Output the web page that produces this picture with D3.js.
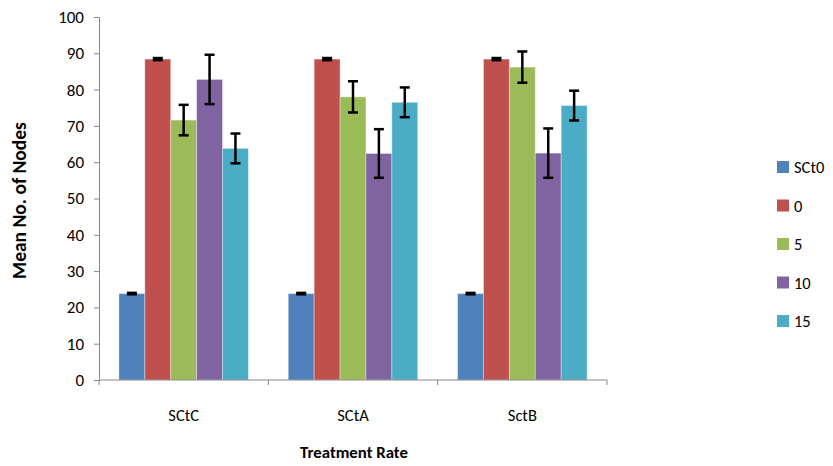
<!DOCTYPE html>
<html>
<head>
<meta charset="utf-8">
<script src="https://cdn.jsdelivr.net/npm/d3@7"></script>
<style>
  body { margin: 0; background: #fff; }
  text { font-family: Carlito, Lato, "Open Sans", sans-serif; }
</style>
</head>
<body>
<div id="container"></div>
<script>
// Données
const groups = ["SCtC", "SCtA", "SctB"];
const series = ["SCt0", "0", "5", "10", "15"];
const colors = ["#4F81BD", "#C0504D", "#9BBB59", "#8064A2", "#4BACC6"];
// valeurs par groupe, dans l'ordre des séries
const means = [
  [23.8, 88.4, 71.6, 82.8, 63.8],
  [23.8, 88.4, 78.0, 62.4, 76.5],
  [23.8, 88.4, 86.2, 62.5, 75.6]
];
const errs = [
  [0.2, 0.3, 4.2, 6.8, 4.1],
  [0.2, 0.3, 4.3, 6.7, 4.1],
  [0.2, 0.3, 4.3, 6.8, 4.1]
];
const yTicks = [0, 10, 20, 30, 40, 50, 60, 70, 80, 90, 100];

const width = 833, height = 466;
const marginLeft = 99, marginRight = 226, marginTop = 17, marginBottom = 86;

const svg = d3.create("svg")
  .attr("width", width)
  .attr("height", height);

const x0 = d3.scaleBand()
  .domain(groups)
  .range([marginLeft, width - marginRight]);

const x1 = d3.scaleBand()
  .domain(series)
  .range([0, x0.bandwidth()])
  .paddingOuter(0.77);

const y = d3.scaleLinear()
  .domain([0, 100])
  .range([height - marginBottom, marginTop]);

// Axe Y
const yAxis = svg.append("g")
  .attr("transform", `translate(${marginLeft},0)`)
  .call(d3.axisLeft(y).tickValues(yTicks).tickSize(5).tickPadding(10));
yAxis.selectAll("line, path").attr("stroke", "#868686");
yAxis.selectAll("text").style("font-size", "17px").attr("fill", "#000");

// Barres
const g = svg.append("g")
  .selectAll("g")
  .data(groups)
  .join("g")
  .attr("transform", d => `translate(${x0(d)},0)`);

g.selectAll("rect")
  .data((d, i) => series.map((s, j) => ({s, v: means[i][j], e: errs[i][j], c: colors[j]})))
  .join("rect")
  .attr("x", d => x1(d.s))
  .attr("y", d => y(d.v))
  .attr("width", x1.bandwidth())
  .attr("height", d => y(0) - y(d.v))
  .attr("fill", d => d.c)
  .attr("stroke", "rgba(255,255,255,0.35)")
  .attr("stroke-width", 1);

// Barres d'erreur
const eb = g.selectAll("g.err")
  .data((d, i) => series.map((s, j) => ({s, v: means[i][j], e: errs[i][j]})))
  .join("g")
  .attr("class", "err")
  .attr("stroke", "#000")
  .attr("stroke-width", 2.5);

eb.append("line")
  .attr("x1", d => x1(d.s) + x1.bandwidth() / 2)
  .attr("x2", d => x1(d.s) + x1.bandwidth() / 2)
  .attr("y1", d => y(d.v + d.e))
  .attr("y2", d => y(d.v - d.e));
eb.append("line")
  .attr("x1", d => x1(d.s) + x1.bandwidth() / 2 - 5)
  .attr("x2", d => x1(d.s) + x1.bandwidth() / 2 + 5)
  .attr("y1", d => y(d.v + d.e))
  .attr("y2", d => y(d.v + d.e));
eb.append("line")
  .attr("x1", d => x1(d.s) + x1.bandwidth() / 2 - 5)
  .attr("x2", d => x1(d.s) + x1.bandwidth() / 2 + 5)
  .attr("y1", d => y(d.v - d.e))
  .attr("y2", d => y(d.v - d.e));

// Axe X
const xAxis = svg.append("g")
  .attr("transform", `translate(0,${y(0)})`);
xAxis.append("line")
  .attr("x1", marginLeft).attr("x2", width - marginRight)
  .attr("stroke", "#868686");
xAxis.selectAll("line.tk")
  .data([...groups.map(d => x0(d)), width - marginRight])
  .join("line")
  .attr("class", "tk")
  .attr("x1", d => d).attr("x2", d => d)
  .attr("y1", 0).attr("y2", 5)
  .attr("stroke", "#868686");
xAxis.selectAll("text")
  .data(groups)
  .join("text")
  .attr("x", d => x0(d) + x0.bandwidth() / 2)
  .attr("y", 41)
  .attr("text-anchor", "middle")
  .style("font-size", "16.5px")
  .text(d => d);

// Titres
svg.append("text")
  .attr("x", 354)
  .attr("y", 458)
  .attr("text-anchor", "middle")
  .style("font-size", "16.8px")
  .style("font-weight", "bold")
  .text("Treatment Rate");

svg.append("text")
  .attr("transform", `translate(26,${(y(0) + y(100)) / 2 + 2}) rotate(-90)`)
  .attr("text-anchor", "middle")
  .style("font-size", "19.5px")
  .style("font-weight", "bold")
  .text("Mean No. of Nodes");

// Légende
const legend = svg.append("g")
  .attr("transform", "translate(777,161)");
const item = legend.selectAll("g")
  .data(series)
  .join("g")
  .attr("transform", (d, i) => `translate(0,${i * 38.5})`);
item.append("rect")
  .attr("width", 12).attr("height", 12)
  .attr("fill", (d, i) => colors[i]);
item.append("text")
  .attr("x", 17).attr("y", 6)
  .attr("dominant-baseline", "central")
  .style("font-size", "16.5px")
  .text(d => d);

document.getElementById("container").append(svg.node());
</script>
</body>
</html>
